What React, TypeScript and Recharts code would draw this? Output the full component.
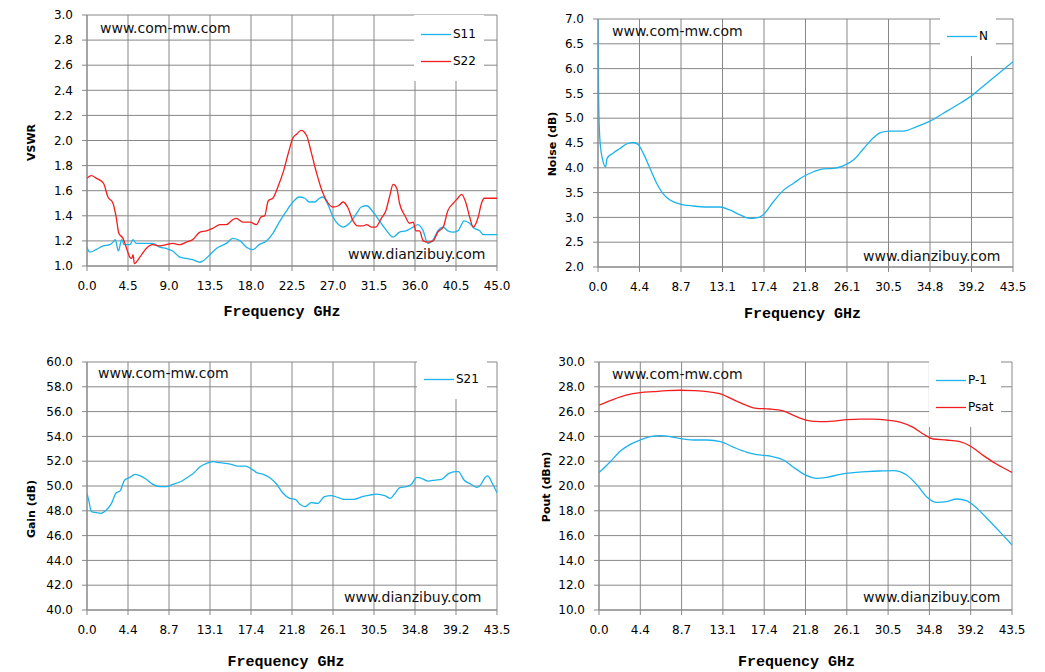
import { CartesianGrid, Legend, Line, LineChart, XAxis, YAxis } from "recharts";

const GRID = "#878787";
const BLUE = "#1cb3ec";
const RED = "#f21e1e";
const FONT = "'DejaVu Sans', Verdana, sans-serif";
const TITLE_FONT = "'Liberation Mono', 'Courier New', monospace";

type Pt = [number, number];

// ---- frequency axes ---------------------------------------------------------
const TICKS_45 = [0, 4.5, 9, 13.5, 18, 22.5, 27, 31.5, 36, 40.5, 45];
const LABELS_45 = ["0.0", "4.5", "9.0", "13.5", "18.0", "22.5", "27.0", "31.5", "36.0", "40.5", "45.0"];
const TICKS_435 = [0, 4.35, 8.7, 13.05, 17.4, 21.75, 26.1, 30.45, 34.8, 39.15, 43.5];
const LABELS_435 = ["0.0", "4.4", "8.7", "13.1", "17.4", "21.8", "26.1", "30.5", "34.8", "39.2", "43.5"];

// ---- value axes -------------------------------------------------------------
const VSWR_TICKS = [1.0, 1.2, 1.4, 1.6, 1.8, 2.0, 2.2, 2.4, 2.6, 2.8, 3.0];
const NOISE_TICKS = [2.0, 2.5, 3.0, 3.5, 4.0, 4.5, 5.0, 5.5, 6.0, 6.5, 7.0];
const GAIN_TICKS = [40, 42, 44, 46, 48, 50, 52, 54, 56, 58, 60];
const POUT_TICKS = [10, 12, 14, 16, 18, 20, 22, 24, 26, 28, 30];

// ---- series: [GHz, value] ---------------------------------------------------
const S11: Pt[] = [
  [0, 1.15], [0.3, 1.11], [1.0, 1.13], [1.76, 1.16], [2.5, 1.17], [2.85, 1.19], [3.1, 1.21],
  [3.45, 1.12], [3.8, 1.21], [4.1, 1.17], [4.7, 1.17], [5.05, 1.21], [5.4, 1.18], [6.5, 1.18],
  [7.2, 1.18], [8.0, 1.15], [8.7, 1.14], [9.4, 1.12], [10.2, 1.07], [10.9, 1.06], [11.6, 1.05],
  [12.4, 1.03], [12.7, 1.04], [13.5, 1.09], [14.2, 1.14], [15.3, 1.18], [16.0, 1.22], [16.8, 1.2],
  [17.5, 1.15], [18.2, 1.13], [18.9, 1.17], [19.7, 1.2], [20.4, 1.26], [21.1, 1.35], [21.9, 1.44],
  [22.6, 1.51], [23.3, 1.55], [23.9, 1.54], [24.4, 1.51], [25.0, 1.51], [25.5, 1.54], [25.9, 1.55],
  [26.5, 1.48], [27.0, 1.39], [27.6, 1.33], [28.1, 1.31], [28.8, 1.34], [29.6, 1.42], [30.1, 1.47],
  [30.7, 1.48], [31.4, 1.43], [32.1, 1.36], [32.8, 1.29], [33.6, 1.23], [34.3, 1.27], [35.0, 1.28],
  [35.8, 1.31], [36.3, 1.33], [36.9, 1.28], [37.4, 1.18], [38.0, 1.21], [38.5, 1.28], [39.1, 1.31],
  [39.6, 1.28], [40.2, 1.27], [40.7, 1.28], [41.4, 1.36], [42.0, 1.34], [42.5, 1.3], [43.1, 1.28],
  [43.5, 1.25], [45, 1.25],
];

const S22: Pt[] = [
  [0, 1.7], [0.5, 1.72], [1.0, 1.7], [1.8, 1.66], [2.3, 1.55], [2.85, 1.5], [3.2, 1.39], [3.5, 1.26],
  [3.95, 1.22], [4.3, 1.15], [4.7, 1.07], [4.9, 1.06], [5.05, 1.09], [5.2, 1.02], [5.8, 1.07],
  [6.5, 1.14], [7.2, 1.17], [8.0, 1.16], [8.7, 1.17], [9.4, 1.18], [10.2, 1.17], [10.9, 1.19],
  [11.6, 1.21], [12.4, 1.27], [13.1, 1.28], [13.8, 1.3], [14.6, 1.33], [15.3, 1.33], [16.0, 1.37],
  [16.4, 1.38], [17.1, 1.35], [17.9, 1.35], [18.6, 1.33], [19.1, 1.39], [19.5, 1.4], [19.9, 1.52],
  [20.4, 1.54], [21.0, 1.64], [21.5, 1.74], [22.1, 1.9], [22.6, 2.02], [23.0, 2.05], [23.5, 2.08],
  [24.1, 2.04], [24.6, 1.91], [25.2, 1.74], [25.7, 1.62], [26.3, 1.52], [27.0, 1.47], [27.6, 1.48],
  [28.1, 1.51], [28.6, 1.47], [29.2, 1.36], [29.7, 1.32], [30.3, 1.32], [30.7, 1.33], [31.2, 1.31],
  [31.7, 1.31], [32.3, 1.38], [32.8, 1.44], [33.2, 1.55], [33.6, 1.65], [34.0, 1.62], [34.3, 1.5],
  [34.9, 1.4], [35.4, 1.34], [35.8, 1.35], [36.1, 1.28], [36.5, 1.28], [36.9, 1.2], [37.4, 1.19],
  [38.0, 1.2], [38.5, 1.27], [39.1, 1.31], [39.6, 1.44], [40.2, 1.5], [40.7, 1.54], [41.1, 1.57],
  [41.6, 1.5], [42.0, 1.39], [42.4, 1.31], [42.9, 1.38], [43.3, 1.5], [43.6, 1.54], [45, 1.54],
];

const NOISE: Pt[] = [
  [0, 7.0], [0.07, 5.36], [0.2, 4.56], [0.5, 4.15], [0.8, 4.02], [0.95, 4.19], [1.6, 4.3],
  [2.3, 4.39], [3.0, 4.48], [3.7, 4.51], [4.2, 4.47], [4.75, 4.29], [5.45, 3.99], [6.15, 3.69],
  [6.85, 3.47], [7.55, 3.35], [8.6, 3.27], [10.0, 3.23], [11.4, 3.21], [12.8, 3.21], [13.8, 3.15],
  [14.9, 3.05], [15.9, 2.98], [16.6, 2.99], [17.3, 3.05], [18.4, 3.32], [19.4, 3.54], [20.5, 3.69],
  [21.5, 3.82], [22.6, 3.92], [23.6, 3.98], [24.7, 3.99], [25.7, 4.04], [26.8, 4.16], [27.8, 4.38],
  [28.9, 4.61], [29.6, 4.71], [30.6, 4.74], [32.0, 4.74], [33.4, 4.83], [34.8, 4.94], [36.2, 5.1],
  [37.6, 5.26], [39.0, 5.43], [40.4, 5.65], [41.8, 5.87], [43.5, 6.14],
];

const S21: Pt[] = [
  [0, 49.4], [0.2, 48.8], [0.46, 47.93], [1.0, 47.85], [1.5, 47.8], [2.05, 48.06], [2.6, 48.6],
  [3.1, 49.46], [3.5, 49.6], [4.0, 50.48], [4.5, 50.67], [5.1, 50.94], [5.6, 50.83], [6.3, 50.54],
  [7.0, 50.13], [7.7, 49.95], [8.4, 49.95], [9.1, 50.13], [9.85, 50.32], [10.6, 50.67], [11.3, 51.02],
  [12.0, 51.56], [12.7, 51.83], [13.4, 51.96], [14.1, 51.88], [15.2, 51.77], [15.9, 51.61],
  [16.8, 51.61], [17.5, 51.34], [18.0, 51.08], [18.7, 50.94], [19.4, 50.67], [20.1, 50.16],
  [20.8, 49.41], [21.5, 49.01], [22.1, 48.92], [22.6, 48.52], [23.1, 48.33], [23.8, 48.66],
  [24.5, 48.6], [25.2, 49.14], [25.9, 49.22], [26.6, 49.08], [27.3, 48.92], [28.3, 48.92],
  [29.2, 49.14], [30.0, 49.27], [30.75, 49.35], [31.6, 49.22], [32.2, 49.01], [32.6, 49.33],
  [33.2, 49.87], [33.9, 49.95], [34.4, 50.13], [35.0, 50.7], [35.5, 50.62], [36.2, 50.4],
  [36.95, 50.48], [37.6, 50.54], [38.4, 51.02], [39.1, 51.16], [39.4, 51.16], [40.0, 50.48],
  [40.7, 50.16], [41.4, 49.89], [41.8, 50.13], [42.1, 50.54], [42.5, 50.81], [43.0, 50.22],
  [43.5, 49.46],
];

const P1DB: Pt[] = [
  [0, 21.08], [1.19, 21.96], [2.25, 22.82], [3.3, 23.36], [4.35, 23.71], [5.4, 23.98], [6.45, 24.06],
  [7.5, 23.98], [8.56, 23.82], [9.96, 23.71], [11.4, 23.71], [12.8, 23.58], [14.2, 23.12],
  [15.6, 22.72], [16.6, 22.53], [18.0, 22.42], [19.4, 22.1], [20.8, 21.34], [21.9, 20.83],
  [22.9, 20.62], [24.0, 20.7], [25.4, 20.94], [26.8, 21.08], [28.2, 21.16], [29.6, 21.21],
  [31.0, 21.24], [32.4, 20.89], [33.5, 20.08], [34.5, 19.14], [35.6, 18.68], [36.6, 18.74],
  [37.7, 18.95], [38.7, 18.82], [39.8, 18.2], [41.2, 17.12], [42.3, 16.24], [43.5, 15.24],
];

const PSAT: Pt[] = [
  [0, 26.51], [1.54, 26.99], [2.95, 27.34], [4.35, 27.53], [5.75, 27.61], [7.16, 27.69],
  [8.56, 27.72], [9.96, 27.69], [11.4, 27.61], [12.8, 27.42], [14.2, 26.94], [15.6, 26.48],
  [16.6, 26.26], [18.0, 26.21], [19.4, 26.05], [20.8, 25.59], [21.9, 25.3], [23.3, 25.19],
  [24.7, 25.24], [26.1, 25.35], [27.5, 25.4], [28.9, 25.4], [30.3, 25.32], [31.7, 25.16],
  [33.1, 24.73], [34.2, 24.17], [35.2, 23.79], [36.6, 23.71], [38.0, 23.58], [39.1, 23.23],
  [40.5, 22.45], [41.9, 21.75], [43.5, 21.1],
];

const rows = (pts: Pt[]) => pts.map(([f, v]) => ({ f, v }));

type Series = { name: string; color: string; points: Pt[] };

type PanelProps = {
  left: number;
  top: number;
  width: number;
  margin: { top: number; right: number; bottom: number; left: number };
  yWidth: number;
  yDomain: [number, number];
  yTicks: number[];
  xDomain: [number, number];
  xTicks: number[];
  xLabels: string[];
  yTitle: string;
  yTitleDx: number;
  yTitleDy: number;
  xTitleDy: number; // baseline below the plot bottom
  xTitleDx: number;
  series: Series[];
  legendAt: { x: number; y: number };
  marks: { text: string; x: number; y: number }[];
};

const HEIGHT = 336;

function LegendBox({ payload }: any) {
  return (
    <div style={{ background: "#fff", padding: "6px 8px 6px 7px" }}>
      {(payload ?? []).map((item: any) => (
        <div key={item.value} style={{ display: "flex", alignItems: "center", height: 27 }}>
          <svg width={30} height={3} style={{ display: "block" }}>
            <line x1={0} y1={1.5} x2={30} y2={1.5} stroke={item.color} strokeWidth={1.3} />
          </svg>
          <span style={{ marginLeft: 2, fontFamily: FONT, fontSize: 12, color: "#000", lineHeight: "14px" }}>
            {item.value}
          </span>
        </div>
      ))}
    </div>
  );
}

function Panel(p: PanelProps) {
  const yTitle = (lp: any) => {
    const vb = lp.viewBox ?? { x: 0, y: 0, height: 0 };
    const cx = vb.x + p.yTitleDx;
    const cy = vb.y + vb.height / 2 + p.yTitleDy;
    return (
      <text
        x={cx}
        y={cy}
        transform={`rotate(-90 ${cx} ${cy})`}
        textAnchor="middle"
        dominantBaseline="central"
        fontFamily={FONT}
        fontWeight="bold"
        fontSize={11}
        fill="#000"
      >
        {p.yTitle}
      </text>
    );
  };

  const xTitle = (lp: any) => {
    const vb = lp.viewBox ?? { x: 0, y: 0, width: 0 };
    return (
      <text
        x={vb.x + vb.width / 2 + p.xTitleDx}
        y={vb.y + p.xTitleDy}
        textAnchor="middle"
        fontFamily={TITLE_FONT}
        fontWeight="bold"
        fontSize={15}
        fill="#000"
      >
        Frequency GHz
      </text>
    );
  };

  return (
    <div style={{ position: "absolute", left: p.left, top: p.top, width: p.width, height: HEIGHT }}>
      <LineChart width={p.width} height={HEIGHT} margin={p.margin}>
        <CartesianGrid stroke={GRID} strokeWidth={1} />
        <XAxis
          type="number"
          dataKey="f"
          domain={p.xDomain}
          ticks={p.xTicks}
          interval={0}
          allowDataOverflow
          height={60}
          tickFormatter={(v: number) => p.xLabels[p.xTicks.indexOf(v)] ?? v.toFixed(1)}
          tick={{ fill: "#000", fontSize: 12, fontFamily: FONT }}
          tickSize={5}
          tickMargin={10}
          tickLine={{ stroke: GRID }}
          axisLine={{ stroke: GRID }}
          label={xTitle}
        />
        <YAxis
          type="number"
          domain={p.yDomain}
          ticks={p.yTicks}
          interval={0}
          allowDataOverflow
          width={p.yWidth}
          tickFormatter={(v: number) => v.toFixed(1)}
          tick={{ fill: "#000", fontSize: 12, fontFamily: FONT }}
          tickSize={5}
          tickMargin={9}
          tickLine={{ stroke: GRID }}
          axisLine={{ stroke: GRID }}
          label={yTitle}
        />
        <Legend
          layout="horizontal"
          verticalAlign="middle"
          align="center"
          content={LegendBox}
          wrapperStyle={{ left: p.legendAt.x - 7, top: p.legendAt.y - 19.5, width: "auto", height: "auto" }}
        />
        {p.series.map((s) => (
          <Line
            key={s.name}
            name={s.name}
            data={rows(s.points)}
            dataKey="v"
            type="monotone"
            stroke={s.color}
            strokeWidth={1.3}
            dot={false}
            activeDot={false}
            isAnimationActive={false}
          />
        ))}
      </LineChart>
      {p.marks.map((m) => (
        <div
          key={m.text}
          style={{
            position: "absolute",
            left: m.x,
            top: m.y - 8,
            fontFamily: FONT,
            fontSize: 14,
            lineHeight: "16px",
            color: "#111",
            whiteSpace: "nowrap",
            pointerEvents: "none",
          }}
        >
          {m.text}
        </div>
      ))}
    </div>
  );
}

export default function App() {
  return (
    <div style={{ position: "relative", width: 1045, height: 672, background: "#fff", overflow: "hidden" }}>
      <style>{"body{margin:0;background:#fff}"}</style>
      <Panel
        left={0}
        top={0}
        width={520}
        margin={{ top: 15, right: 23, bottom: 10, left: 0 }}
        yWidth={87}
        yDomain={[1, 3]}
        yTicks={VSWR_TICKS}
        xDomain={[0, 45]}
        xTicks={TICKS_45}
        xLabels={LABELS_45}
        yTitle="VSWR"
        yTitleDx={31}
        yTitleDy={2}
        xTitleDy={50}
        xTitleDx={-10}
        series={[
          { name: "S11", color: BLUE, points: S11 },
          { name: "S22", color: RED, points: S22 },
        ]}
        legendAt={{ x: 421, y: 34 }}
        marks={[
          { text: "www.com-mw.com", x: 100, y: 28 },
          { text: "www.dianzibuy.com", x: 348, y: 254 },
        ]}
      />
      <Panel
        left={520}
        top={0}
        width={525}
        margin={{ top: 19, right: 32, bottom: 9, left: 0 }}
        yWidth={78}
        yDomain={[2, 7]}
        yTicks={NOISE_TICKS}
        xDomain={[0, 43.5]}
        xTicks={TICKS_435}
        xLabels={LABELS_435}
        yTitle="Noise (dB)"
        yTitleDx={32}
        yTitleDy={1}
        xTitleDy={51}
        xTitleDx={-3}
        series={[{ name: "N", color: BLUE, points: NOISE }]}
        legendAt={{ x: 427, y: 36 }}
        marks={[
          { text: "www.com-mw.com", x: 92, y: 31 },
          { text: "www.dianzibuy.com", x: 343, y: 256 },
        ]}
      />
      <Panel
        left={0}
        top={336}
        width={520}
        margin={{ top: 26, right: 23, bottom: 2, left: 0 }}
        yWidth={87}
        yDomain={[40, 60]}
        yTicks={GAIN_TICKS}
        xDomain={[0, 43.5]}
        xTicks={TICKS_435}
        xLabels={LABELS_435}
        yTitle="Gain (dB)"
        yTitleDx={31}
        yTitleDy={23}
        xTitleDy={56}
        xTitleDx={-6}
        series={[{ name: "S21", color: BLUE, points: S21 }]}
        legendAt={{ x: 424, y: 43 }}
        marks={[
          { text: "www.com-mw.com", x: 98, y: 37 },
          { text: "www.dianzibuy.com", x: 344, y: 261 },
        ]}
      />
      <Panel
        left={520}
        top={336}
        width={525}
        margin={{ top: 26, right: 33, bottom: 2, left: 0 }}
        yWidth={79}
        yDomain={[10, 30]}
        yTicks={POUT_TICKS}
        xDomain={[0, 43.5]}
        xTicks={TICKS_435}
        xLabels={LABELS_435}
        yTitle="Pout (dBm)"
        yTitleDx={26}
        yTitleDy={1}
        xTitleDy={56}
        xTitleDx={-9}
        series={[
          { name: "P-1", color: BLUE, points: P1DB },
          { name: "Psat", color: RED, points: PSAT },
        ]}
        legendAt={{ x: 416, y: 44 }}
        marks={[
          { text: "www.com-mw.com", x: 92, y: 38 },
          { text: "www.dianzibuy.com", x: 343, y: 261 },
        ]}
      />
    </div>
  );
}
